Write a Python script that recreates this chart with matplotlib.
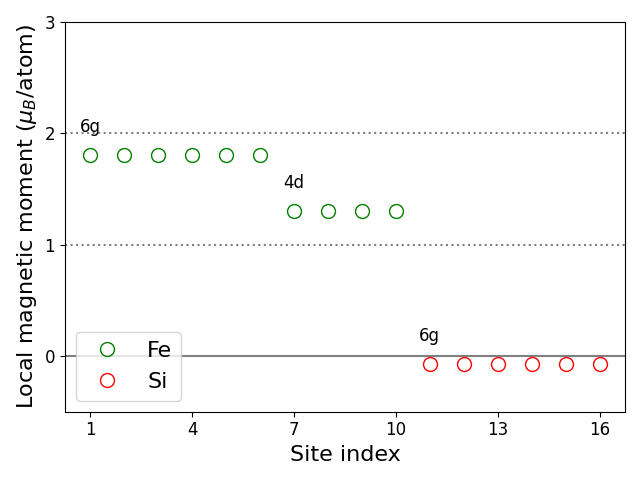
import numpy as np
import matplotlib.pyplot as plt

site_fe = [1, 2, 3, 4, 5, 6, 7, 8, 9, 10]
moment_fe = [1.81, 1.81, 1.81, 1.81, 1.81, 1.81, 1.30, 1.30, 1.30, 1.30]
site_si = [11, 12, 13, 14, 15, 16]
moment_si = [-0.07, -0.07, -0.07, -0.07, -0.07, -0.07]
wyckoff_labels = ['6g', '4d', '6g']
wyckoff_sites = [1, 7, 11]
wyckoff_moments = [1.81, 1.30, -0.07]

fig = plt.figure(figsize=(6.4, 4.8), dpi=100)
plt.axhline(0, color='gray', linestyle='-')
plt.axhline(1, color='gray', linestyle=':')
plt.axhline(2, color='gray', linestyle=':')
plt.plot(site_fe, moment_fe, 'o', markersize=10, markerfacecolor='none',
         markeredgecolor='green', label='Fe')
plt.plot(site_si, moment_si, 'o', markersize=10, markerfacecolor='none',
         markeredgecolor='red', label='Si')
for lab, xs, ys in zip(wyckoff_labels, wyckoff_sites, wyckoff_moments):
    plt.text(xs, ys + 0.25, lab, ha='center', va='center', fontsize=12)
plt.ylim(-0.5, 3)
plt.xticks([1, 4, 7, 10, 13, 16], fontsize=12)
plt.yticks([0, 1, 2, 3], fontsize=12)
plt.xlabel('Site index', fontsize=16)
plt.ylabel(r'Local magnetic moment ($\mu_B$/atom)', fontsize=16)
plt.legend(loc='lower left', fontsize=16)
plt.tight_layout()
fig.savefig('out.png')
